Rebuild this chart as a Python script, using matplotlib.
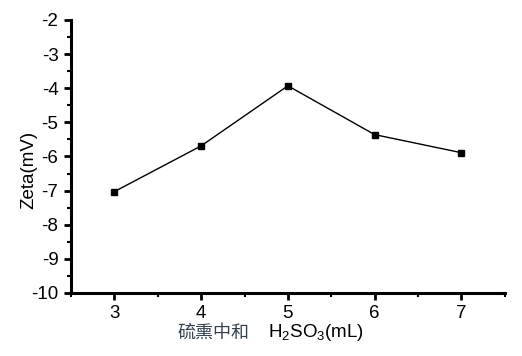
import matplotlib
matplotlib.use("Agg")
import matplotlib.pyplot as plt
from matplotlib.ticker import MultipleLocator

# data
volume = [3, 4, 5, 6, 7]
zeta = [-7.03, -5.69, -3.93, -5.36, -5.89]
y_ticks = [-2, -3, -4, -5, -6, -7, -8, -9, -10]

plt.rcParams["font.family"] = ["Liberation Sans", "Noto Sans CJK SC"]
plt.rcParams["mathtext.fontset"] = "custom"
plt.rcParams["mathtext.rm"] = "Liberation Sans"
plt.rcParams["mathtext.default"] = "rm"
plt.rcParams["axes.unicode_minus"] = False

fig = plt.figure(figsize=(5.22, 3.56), dpi=100)
ax = fig.add_axes([0.136, 0.177, 0.831, 0.767])

ax.plot(volume, zeta, color="black", lw=1.0, marker="s", ms=5, mfc="black", mec="black")

ax.set_xlim(2.5, 7.5)
ax.set_ylim(-10, -2)
ax.set_xticks(volume)
ax.set_yticks(y_ticks)
ax.xaxis.set_minor_locator(MultipleLocator(0.5))
ax.yaxis.set_minor_locator(MultipleLocator(0.5))

for s in ("top", "right"):
    ax.spines[s].set_visible(False)
for s in ("left", "bottom"):
    ax.spines[s].set_linewidth(2.2)

ax.tick_params(which="major", direction="out", length=5, width=2, labelsize=13.5, pad=4)
ax.tick_params(which="minor", direction="out", length=3, width=1.5)

ax.set_ylabel("Zeta(mV)", fontsize=13.5)
ax.yaxis.set_label_coords(-0.078, 0.45)

fig.text(0.34, 0.065, "硫熏中和", fontsize=13, color="#34404c", ha="left", va="center")
fig.text(0.513, 0.065, "H$_2$SO$_3$(mL)", fontsize=13.5, color="black", ha="left", va="center")

fig.savefig("out.png", dpi=100)
